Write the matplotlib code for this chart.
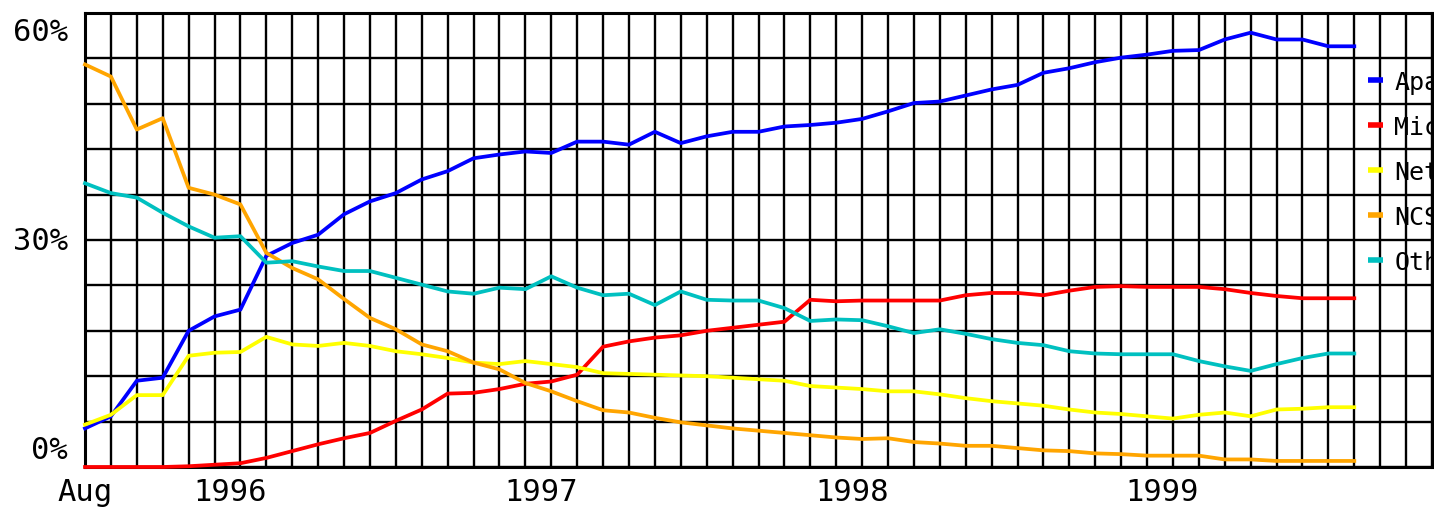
import numpy as np
import matplotlib
matplotlib.use("Agg")
import matplotlib.pyplot as plt
from matplotlib.lines import Line2D

# monthly survey share (%), Aug 1995 .. Sep 1999
apache = [5.1, 6.7, 11.4, 11.8, 18.0, 19.9, 20.8, 27.9, 29.6, 30.7,
          33.4, 35.1, 36.2, 38.0, 39.1, 40.8, 41.3, 41.7, 41.5, 43.0,
          43.0, 42.6, 44.3, 42.8, 43.7, 44.3, 44.3, 45.0, 45.2, 45.5,
          46.0, 47.0, 48.1, 48.3, 49.1, 49.9, 50.5, 52.1, 52.7, 53.5,
          54.1, 54.5, 55.0, 55.1, 56.5, 57.4, 56.5, 56.5, 55.6, 55.6]
microsoft = [0.0, 0.0, 0.0, 0.0, 0.1, 0.3, 0.5, 1.2, 2.1, 3.0,
             3.8, 4.5, 6.1, 7.6, 9.7, 9.8, 10.3, 11.0, 11.3, 12.2,
             15.9, 16.6, 17.1, 17.4, 18.0, 18.4, 18.8, 19.2, 22.1, 21.9,
             22.0, 22.0, 22.0, 22.0, 22.7, 23.0, 23.0, 22.7, 23.3, 23.8,
             23.9, 23.8, 23.8, 23.8, 23.5, 23.0, 22.6, 22.3, 22.3, 22.3]
netscape = [5.6, 6.9, 9.5, 9.5, 14.7, 15.1, 15.2, 17.2, 16.2, 16.0,
            16.4, 16.0, 15.3, 14.9, 14.4, 13.8, 13.6, 14.0, 13.6, 13.2,
            12.4, 12.3, 12.2, 12.1, 12.0, 11.8, 11.6, 11.4, 10.7, 10.5,
            10.3, 10.0, 10.0, 9.6, 9.1, 8.7, 8.4, 8.1, 7.6, 7.2,
            7.0, 6.7, 6.4, 6.9, 7.2, 6.7, 7.6, 7.7, 7.9, 7.9]
ncsa = [53.2, 51.6, 44.6, 46.1, 36.9, 36.0, 34.7, 28.3, 26.3, 24.8,
        22.2, 19.7, 18.2, 16.2, 15.3, 13.8, 12.9, 11.1, 10.0, 8.7,
        7.5, 7.2, 6.5, 5.9, 5.5, 5.1, 4.8, 4.5, 4.2, 3.9,
        3.7, 3.8, 3.3, 3.1, 2.8, 2.8, 2.5, 2.2, 2.1, 1.8,
        1.7, 1.5, 1.5, 1.5, 1.0, 1.0, 0.8, 0.8, 0.8, 0.8]
other = [37.5, 36.2, 35.6, 33.6, 31.8, 30.3, 30.5, 27.0, 27.2, 26.5,
         25.9, 25.9, 25.0, 24.1, 23.2, 22.9, 23.7, 23.5, 25.2, 23.7,
         22.7, 22.9, 21.4, 23.2, 22.1, 22.0, 22.0, 21.0, 19.3, 19.5,
         19.4, 18.6, 17.7, 18.2, 17.6, 16.9, 16.4, 16.1, 15.3, 15.0,
         14.9, 14.9, 14.9, 14.0, 13.3, 12.7, 13.6, 14.4, 15.0, 15.0]

series_names = ["Apache", "Microsoft", "Netscape", "NCSA", "Other"]
series_colors = ["#0000ff", "#ff0000", "#ffff00", "#ffa500", "#00c0c0"]
x_labels = ["Aug", "1996", "1997", "1998", "1999"]
y_labels = ["0%", "30%", "60%"]

mono = "DejaVu Sans Mono"
months = np.arange(len(apache))

fig = plt.figure(figsize=(14.34, 5.10), dpi=100)
ax = fig.add_axes([85 / 1434, 42 / 510, 1347 / 1434, 454 / 510])

for vals, name, col in zip([apache, microsoft, netscape, ncsa, other],
                           series_names, series_colors):
    ax.plot(months, vals, color=col, lw=2.7, label=name, zorder=3, clip_on=False)

ax.set_xlim(0, 52)
ax.set_ylim(0, 60)

# monthly vertical grid, 6% horizontal grid
ax.set_xticks(np.arange(0, 53), minor=True)
ax.set_yticks(np.arange(0, 61, 6))
ax.set_yticklabels([])
ax.grid(which="minor", axis="x", color="black", lw=1.7)
ax.grid(which="major", axis="y", color="black", lw=1.7)

# year labels sit a little right of January
ax.set_xticks([0, 5.6, 17.6, 29.6, 41.6], x_labels)
ax.tick_params(axis="both", which="both", length=0)
ax.tick_params(axis="x", pad=7)
for t in ax.get_xticklabels():
    t.set_fontfamily(mono)
    t.set_fontsize(22)

for lab, yv in zip(y_labels, [2.3, 30, 57.5]):
    ax.text(-0.0125, yv, lab, transform=ax.get_yaxis_transform(),
            ha="right", va="center", fontsize=22, family=mono)

for s in ax.spines.values():
    s.set_color("black")
    s.set_linewidth(2.2)

handles = [Line2D([], [], color=c, lw=4, solid_capstyle="butt") for c in series_colors]
ax.legend(handles, series_names, loc="upper left", bbox_to_anchor=(0.9526, 0.875),
          frameon=False, prop={"family": mono, "size": 18}, handlelength=0.6,
          handletextpad=0.45, labelspacing=0.84, borderpad=0, borderaxespad=0)

fig.savefig("out.png", dpi=100)
